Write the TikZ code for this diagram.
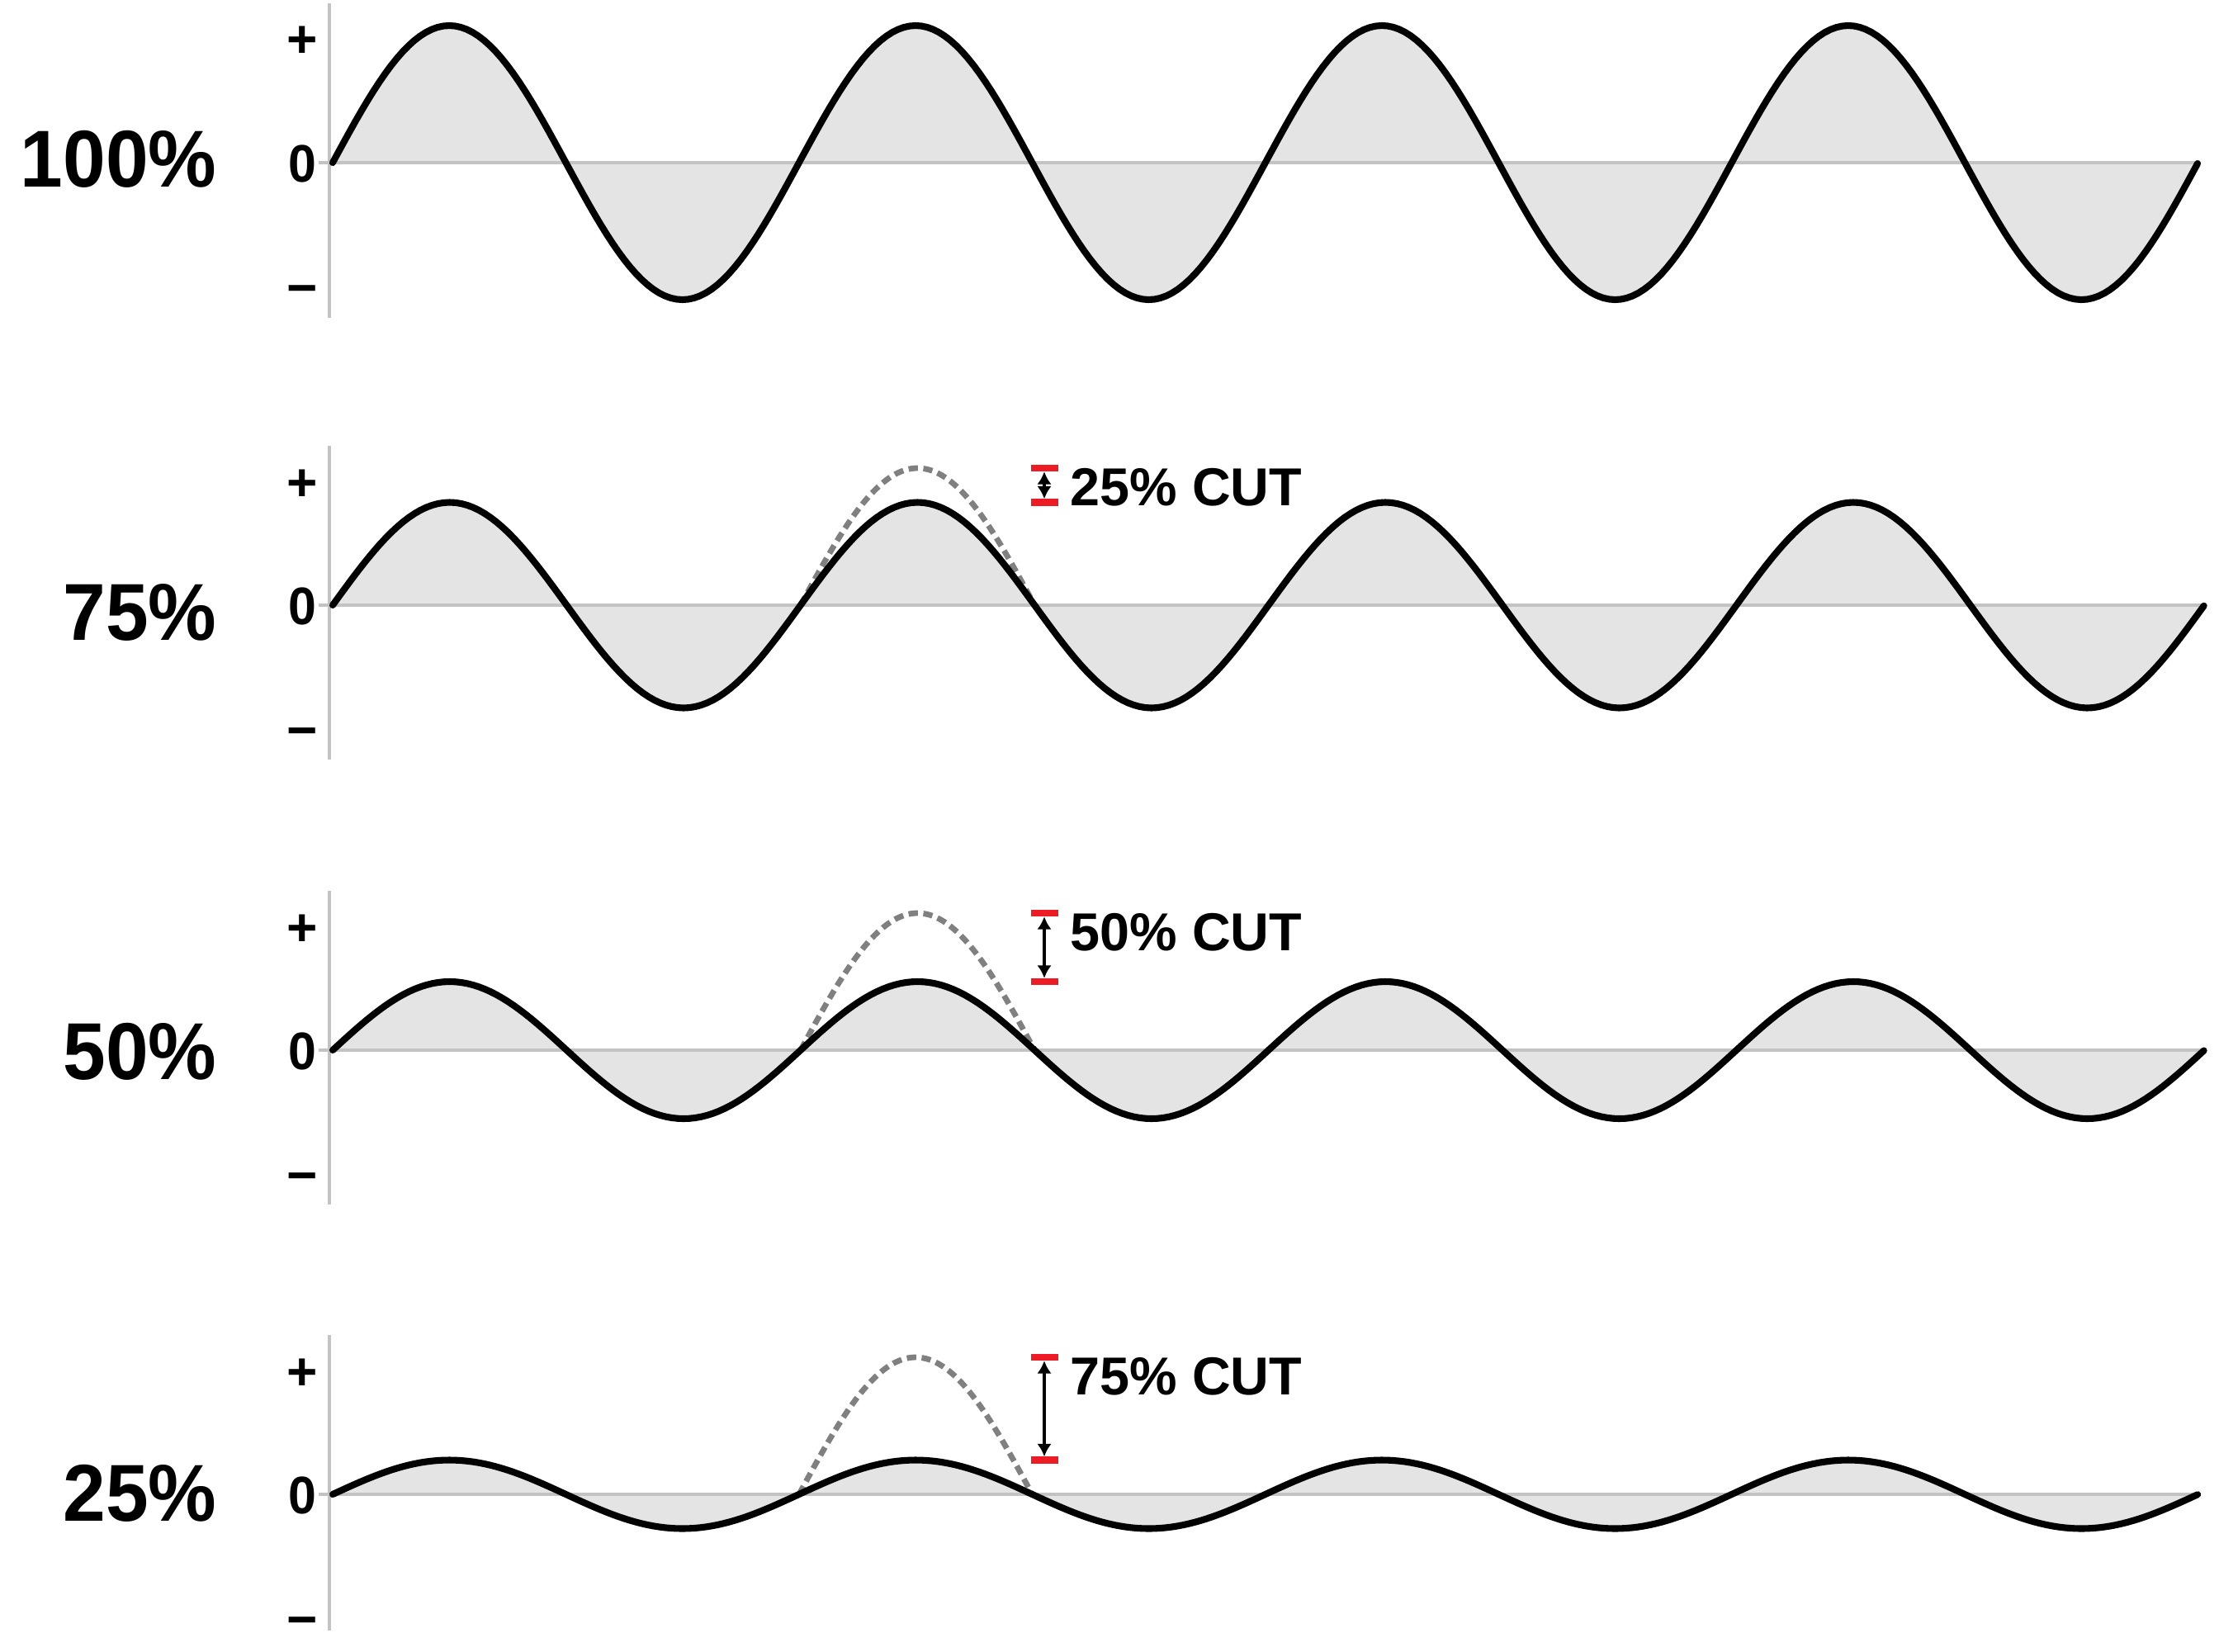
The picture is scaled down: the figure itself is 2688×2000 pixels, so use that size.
\documentclass[tikz,border=0pt]{standalone}
\usepackage{graphicx}
\usepackage{fontspec}
\setmainfont{Liberation Sans}
\usetikzlibrary{arrows.meta}
\definecolor{wavefill}{HTML}{E4E4E4}
\definecolor{axisgray}{HTML}{C3C3C3}
\definecolor{dashgray}{HTML}{808080}
\definecolor{cutred}{HTML}{ED1C24}
\newcommand{\narrow}[1]{\scalebox{0.95}[1]{#1}}
% #1 name, #2 zero y, #3 amplitude factor, #4 period, #5 axis bottom offset, #6 label, #7 label baseline offset
\newcommand{\wavepanel}[7]{%
  \fill[wavefill] plot[domain=0:4,samples=321] ({403+#4*\x},{#2-166*#3*sin(360*\x)}) -- cycle;
  \draw[axisline] (386,#2) -- ({403+4*#4},#2);
  \draw[axisline] (399,#2-193) -- (399,#2+#5);
  \node[biglabel] (lab#1) at (263,#2+#7) {\narrow{#6}};
  \node[ticklabel] (plus#1) at (366,#2-127) {+};
  \node[ticklabel] (zero#1) at (366,#2+23) {\narrow{0}};
  \node[ticklabel] (minus#1) at (366,#2+173) {\char"2212};
}
% #1 name, #2 zero y, #3 factor, #4 period, #5 text
\newcommand{\cutmark}[5]{%
  \draw[dashedwave] plot[domain=1:1.5,samples=80] ({403+#4*\x},{#2-166*sin(360*\x)});
  \coordinate (top#1) at (1265,#2-166);
  \coordinate (bot#1) at (1265,#2-166*#3);
  \draw[redbar] (top#1) ++(-16.5,0) -- ++(33,0);
  \draw[redbar] (bot#1) ++(-16.5,0) -- ++(33,0);
  \draw[cutarrow] (top#1) -- (bot#1);
  \node[cutlabel] (cut#1) at (1296,#2-166+45) {#5};
}
\newcommand{\wavecurve}[3]{%
  \draw[wave] plot[domain=0:4,samples=321] ({403+#3*\x},{#1-166*#2*sin(360*\x)});
}
\begin{document}
\begin{tikzpicture}[x=0.01cm,y=-0.01cm,
  wave/.style={line width=2.3pt,black,line cap=round,line join=round},
  dashedwave/.style={line width=1.95pt,dashgray,dash pattern=on 3.2pt off 1.9pt},
  axisline/.style={line width=0.9pt,axisgray},
  redbar/.style={line width=2.4pt,cutred},
  cutarrow/.style={line width=1.3pt,black,{Latex[length=4.4pt,width=5pt]}-{Latex[length=4.4pt,width=5pt]},shorten >=1.2pt,shorten <=1.2pt},
  biglabel/.style={anchor=base east,inner sep=0pt,font=\fontsize{27.8}{30}\selectfont\bfseries},
  ticklabel/.style={anchor=base,inner sep=0pt,font=\fontsize{18.2}{20}\selectfont\bfseries},
  cutlabel/.style={anchor=base west,inner sep=0pt,font=\fontsize{18.4}{20}\selectfont\bfseries}]
\useasboundingbox (0,0) rectangle (2688,2000);
\fill[white] (0,0) rectangle (2688,2000);
% panel 1: 100%
\wavepanel{a}{197}{1}{564.9}{188}{100\%}{30}
\wavecurve{197}{1}{564.9}
% panel 2: 75%
\wavepanel{b}{733}{0.75}{566.8}{187}{75\%}{42}
\cutmark{b}{733}{0.75}{566.8}{25\% CUT}
\wavecurve{733}{0.75}{566.8}
% panel 3: 50%
\wavepanel{c}{1272}{0.5}{566.8}{187}{50\%}{35}
\cutmark{c}{1272}{0.5}{566.8}{50\% CUT}
\wavecurve{1272}{0.5}{566.8}
% panel 4: 25%
\wavepanel{d}{1810}{0.25}{564.9}{165}{25\%}{32}
\cutmark{d}{1810}{0.25}{564.9}{75\% CUT}
\wavecurve{1810}{0.25}{564.9}
\end{tikzpicture}
\end{document}
